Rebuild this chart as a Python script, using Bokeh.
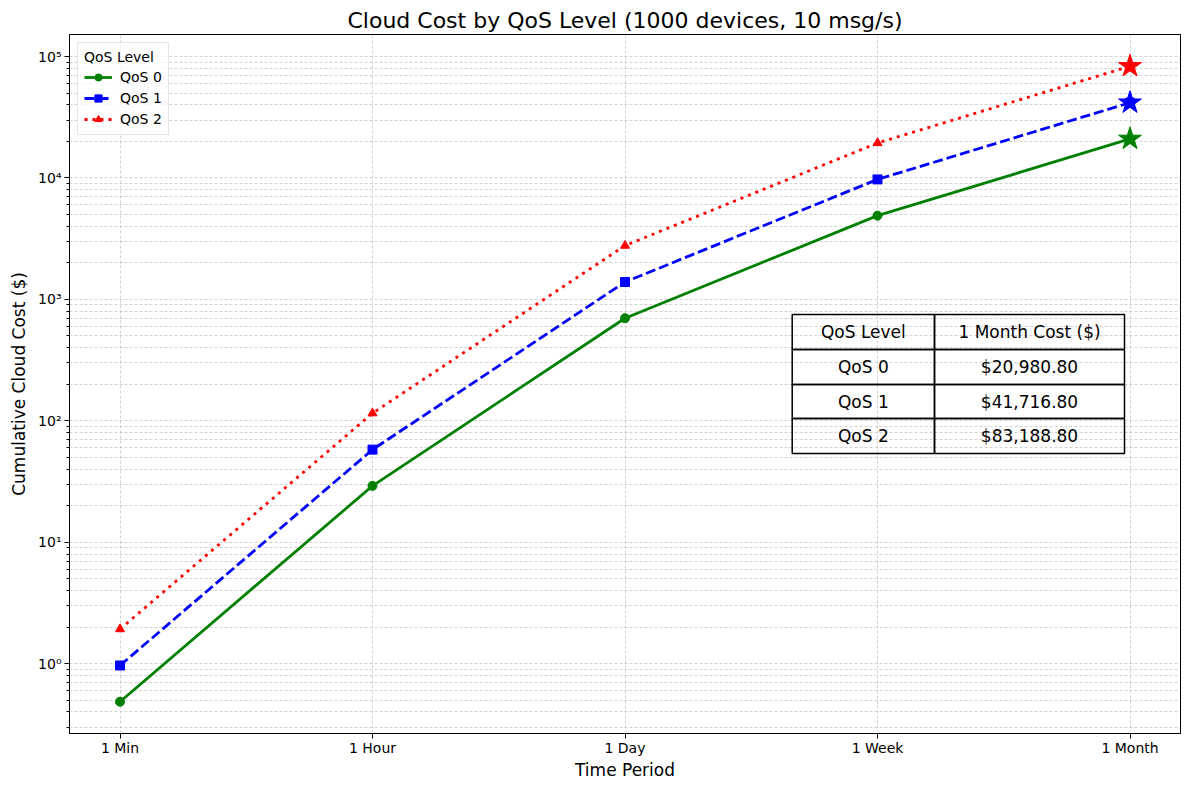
import numpy as np
from bokeh.plotting import figure
from bokeh.models import (FixedTicker, Range1d, Legend, LegendItem, BoxAnnotation, Label)
from bokeh.embed import file_html
from bokeh.resources import INLINE

periods = ["1 Min", "1 Hour", "1 Day", "1 Week", "1 Month"]
qos_names = ["QoS 0", "QoS 1", "QoS 2"]
qos0 = [0.486, 29.14, 699.36, 4895.5, 20980.8]
qos1 = [0.966, 57.94, 1390.56, 9733.9, 41716.8]
qos2 = [1.926, 115.54, 2772.96, 19410.7, 83188.8]
major_ticks = [1, 10, 100, 1000, 10000, 100000]
major_labels = ["10⁰", "10¹", "10²", "10³", "10⁴", "10⁵"]

FONT = "DejaVu Sans"
xs = list(range(len(periods)))

# log-axis limits with a 5% margin like matplotlib autoscale
all_vals = np.array(qos0 + qos1 + qos2)
lo, hi = np.log10(all_vals.min()), np.log10(all_vals.max())
pad = 0.05 * (hi - lo)

p = figure(frame_width=1111, frame_height=699, y_axis_type="log",
           x_range=Range1d(-0.2, len(periods) - 0.8),
           y_range=Range1d(10 ** (lo - pad), 10 ** (hi + pad)),
           output_backend="svg", toolbar_location=None, tools="",
           title="Cloud Cost by QoS Level (1000 devices, 10 msg/s)",
           min_border_left=69, min_border_right=8, min_border_top=34, min_border_bottom=56)

p.title.align = "center"
p.title.text_font = FONT
p.title.text_font_size = "22px"
p.title.text_font_style = "normal"
p.title.text_color = "black"
p.title.standoff = 4

p.outline_line_color = "black"
p.outline_line_width = 1
p.outline_line_alpha = 1

minor = [m * 10.0 ** e for e in range(-1, 6) for m in range(2, 10)]
p.yaxis.ticker = FixedTicker(ticks=major_ticks, minor_ticks=minor)
p.yaxis.major_label_overrides = dict(zip(major_ticks, major_labels))
p.xaxis.ticker = FixedTicker(ticks=xs)
p.xaxis.major_label_overrides = dict(zip(xs, periods))

for ax in (p.xaxis, p.yaxis):
    ax.major_label_text_font = FONT
    ax.major_label_text_font_size = "14px"
    ax.major_label_text_color = "black"
    ax.axis_label_text_font = FONT
    ax.axis_label_text_font_size = "17px"
    ax.axis_label_text_font_style = "normal"
    ax.axis_label_text_color = "black"
    ax.axis_line_color = "black"
    ax.major_tick_line_color = "black"
    ax.minor_tick_line_color = "black"
    ax.major_tick_out = 5
    ax.major_tick_in = 0
    ax.minor_tick_out = 3
    ax.minor_tick_in = 0
    ax.major_label_standoff = 3
    ax.axis_label_standoff = 6
p.xaxis.minor_tick_line_color = None
p.xaxis.major_label_standoff = 1
p.xaxis.axis_label_standoff = 1
p.xaxis.axis_label = "Time Period"
p.yaxis.axis_label = "Cumulative Cloud Cost ($)"

for g in (p.xgrid, p.ygrid):
    g.grid_line_color = "#b0b0b0"
    g.grid_line_dash = "3 2"
    g.grid_line_width = 0.7
    g.grid_line_alpha = 0.8
p.ygrid.minor_grid_line_color = "#b0b0b0"
p.ygrid.minor_grid_line_dash = "3 2"
p.ygrid.minor_grid_line_width = 0.7
p.ygrid.minor_grid_line_alpha = 0.8

series = [qos0, qos1, qos2]
colors = ["green", "blue", "red"]
dashes = ["solid", "10 4", "3 5"]
markers = ["circle", "square", "triangle"]

items = []
for name, vals, c, d, m in zip(qos_names, series, colors, dashes, markers):
    ln = p.line(xs, vals, line_color=c, line_width=2.8, line_dash=d)
    sc = p.scatter(xs, vals, marker=m, size=9, fill_color=c, line_color=c)
    p.scatter([xs[-1]], [vals[-1]], marker="star", size=24, fill_color=c, line_color=c)
    items.append(LegendItem(label=name, renderers=[ln, sc]))

legend = Legend(items=items, location="top_left", title="QoS Level",
                title_text_font=FONT, title_text_font_size="14px", title_text_font_style="normal",
                title_text_color="black",
                label_text_font=FONT, label_text_font_size="14px", label_text_color="black",
                glyph_width=28, glyph_height=18, label_height=18, spacing=3,
                label_standoff=8, padding=6, margin=8, title_standoff=3,
                border_line_color="#cccccc", background_fill_alpha=0.8)
p.add_layout(legend)

# summary table of 1-month costs (frame screen units)
col_x = [722.7, 865, 1055]
row_y = [419, 384, 349, 315, 280]
header = ["QoS Level", "1 Month Cost ($)"]
rows = [[n, "${:,.2f}".format(v[-1])] for n, v in zip(qos_names, series)]
cells = [header] + rows
for r, row in enumerate(cells):
    for c, txt in enumerate(row):
        p.add_layout(BoxAnnotation(left=col_x[c], right=col_x[c + 1],
                                   top=row_y[r], bottom=row_y[r + 1],
                                   left_units="screen", right_units="screen",
                                   top_units="screen", bottom_units="screen",
                                   fill_alpha=0, line_color="black", line_alpha=1,
                                   line_width=1.5))
        p.add_layout(Label(x=(col_x[c] + col_x[c + 1]) / 2, y=(row_y[r] + row_y[r + 1]) / 2,
                           x_units="screen", y_units="screen", text=txt,
                           text_align="center", text_baseline="middle",
                           text_font=FONT, text_font_size="17px", text_color="black"))

open("out.html", "w").write(file_html(p, INLINE))
